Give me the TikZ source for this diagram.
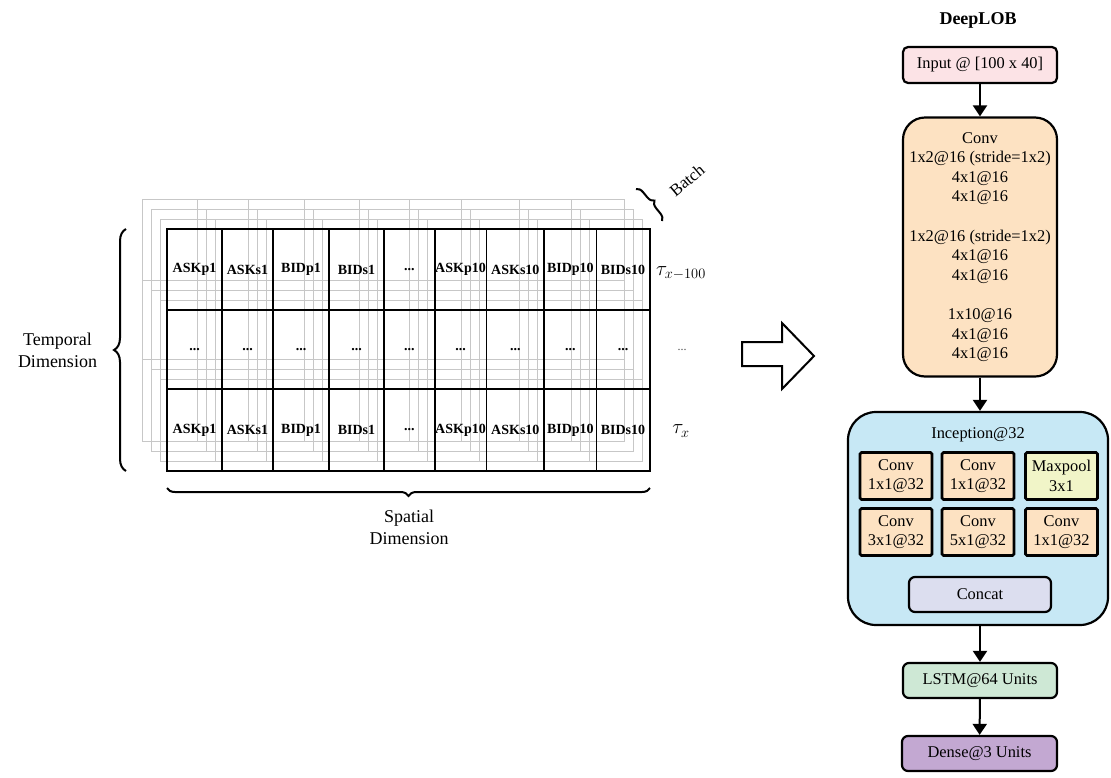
\documentclass[tikz,border=0pt]{standalone}
\usepackage{fontspec}
\setmainfont{Liberation Serif}
\usetikzlibrary{decorations.pathreplacing,arrows.meta}
\definecolor{pinkfill}{HTML}{FCE3E6}
\definecolor{convfill}{HTML}{FDE2C2}
\definecolor{incfill}{HTML}{C7E8F5}
\definecolor{maxfill}{HTML}{F1F5C8}
\definecolor{concatfill}{HTML}{DCDEEF}
\definecolor{lstmfill}{HTML}{CEE8D5}
\definecolor{densefill}{HTML}{C3A8D2}
\newcommand\celldots{...}
\tikzset{
  blk/.style={draw=black, line width=2.2pt, align=center, inner sep=0pt,
    font=\fontsize{16.4}{19.6}\selectfont},
  inner/.style={blk, line width=2.6pt, rounded corners=1.5pt, fill=convfill,
    minimum width=72pt, minimum height=47pt},
  arr/.style={line width=2pt, -{Triangle[length=11pt,width=14pt]}},
  brc/.style={decorate, line width=2pt},
  celltxt/.style={font=\fontsize{14}{16}\selectfont\bfseries, inner sep=0pt},
  greyline/.style={draw=black!22, line width=0.9pt},
  mainline/.style={draw=black, line width=1.8pt},
  lbl/.style={align=center, font=\fontsize{18}{21.7}\selectfont},
}
\begin{document}
\begin{tikzpicture}[x=1pt,y=-1pt]
\useasboundingbox (0,0) rectangle (1111,777);
% grey batch layers
\foreach \k in {1,2,3}{
  \begin{scope}[shift={({-9*\k+2},{-10*\k})}]
    \foreach \cx in {167,222,273,329,384,434.6,486.4,544.3,596.4,649.6}
      \draw[greyline] (\cx,229) -- (\cx,471);
    \foreach \ry in {229,310,389,471}
      \draw[greyline] (167,\ry) -- (649.6,\ry);
  \end{scope}
}
% main grid
\foreach \l/\r/\t [count=\i] in {167/222/ASKp1,222/273/ASKs1,273/329/BIDp1,329/384/BIDs1,384/434.6/\celldots,434.6/486.4/ASKp10,486.4/544.3/ASKs10,544.3/596.4/BIDp10,596.4/649.6/BIDs10}{
  \draw[mainline] (\l,229) rectangle (\r,310);
  \draw[mainline] (\l,310) rectangle (\r,389);
  \draw[mainline] (\l,389) rectangle (\r,471);
  \node[celltxt] (top\i) at ({(\l+\r)/2},269.5) {\t};
  \node[celltxt] (mid\i) at ({(\l+\r)/2},349.5) {\celldots};
  \node[celltxt] (bot\i) at ({(\l+\r)/2},430) {\t};
}
% row labels
\node[font=\fontsize{21}{24}\selectfont] (tau100) at (681,273) {$\tau_{x-100}$};
\node[font=\fontsize{12}{14}\selectfont, text=black!70] (taudots) at (682,350) {\celldots};
\node[font=\fontsize{21}{24}\selectfont] (taux) at (681,431) {$\tau_{x}$};
% braces
\draw[brc, decoration={brace, amplitude=12pt}] (126,471) -- (126,229);
\node[lbl] (temporal) at (57.5,350) {Temporal\\Dimension};
\draw[brc, decoration={brace, amplitude=8pt}] (650,488) -- (167,488);
\node[lbl] (spatial) at (409,527) {Spatial\\Dimension};
\draw[brc, decoration={brace, amplitude=7pt}] (636,189) -- (662,221);
\node[font=\fontsize{17}{20}\selectfont, rotate=40, inner sep=0pt] (batch) at (687,180) {Batch};
% hollow arrow
\draw[line width=2pt, line join=miter] (742,342) -- (782,342) -- (782,323) -- (814,356) -- (782,389) -- (782,366) -- (742,366) -- cycle;
% DeepLOB column
\node[font=\fontsize{18}{20}\selectfont\bfseries] (title) at (978,20) {DeepLOB};
\node[blk, fill=pinkfill, rounded corners=5pt, minimum width=154pt, minimum height=36pt] (input) at (980,65) {Input @ [100 x 40]};
\node[blk, fill=convfill, rounded corners=22pt, minimum width=154pt, minimum height=259pt] (conv) at (980,247)
 {Conv\\1x2@16 (stride=1x2)\\4x1@16\\4x1@16\\[19.6pt]1x2@16 (stride=1x2)\\4x1@16\\4x1@16\\[19.6pt]1x10@16\\4x1@16\\4x1@16};
\node[blk, fill=incfill, rounded corners=28pt, minimum width=260pt, minimum height=213pt] (incep) at (978,518.5) {};
\node[blk, draw=none, fill=none] (inclabel) at (978,435) {Inception@32};
\node[inner] (c1) at (896,476) {Conv\\1x1@32};
\node[inner] (c2) at (978,476) {Conv\\1x1@32};
\node[inner, fill=maxfill] (mp) at (1061.5,476) {Maxpool\\3x1};
\node[inner] (c3) at (896,532) {Conv\\3x1@32};
\node[inner] (c4) at (978,532) {Conv\\5x1@32};
\node[inner] (c5) at (1061.5,532) {Conv\\1x1@32};
\node[blk, fill=concatfill, rounded corners=6pt, minimum width=142pt, minimum height=35pt] (concat) at (980,594.5) {Concat};
\node[blk, fill=lstmfill, rounded corners=6pt, minimum width=154pt, minimum height=35pt] (lstm) at (980,680.5) {LSTM@64 Units};
\node[blk, fill=densefill, rounded corners=6pt, minimum width=155pt, minimum height=35pt] (dense) at (979.5,753.5) {Dense@3 Units};
\draw[arr] (input) -- (conv);
\draw[arr] (conv) -- (conv.south |- incep.north);
\draw[arr] (incep.south -| lstm.north) -- (lstm);
\draw[arr] (lstm) -- (dense);
\end{tikzpicture}
\end{document}
